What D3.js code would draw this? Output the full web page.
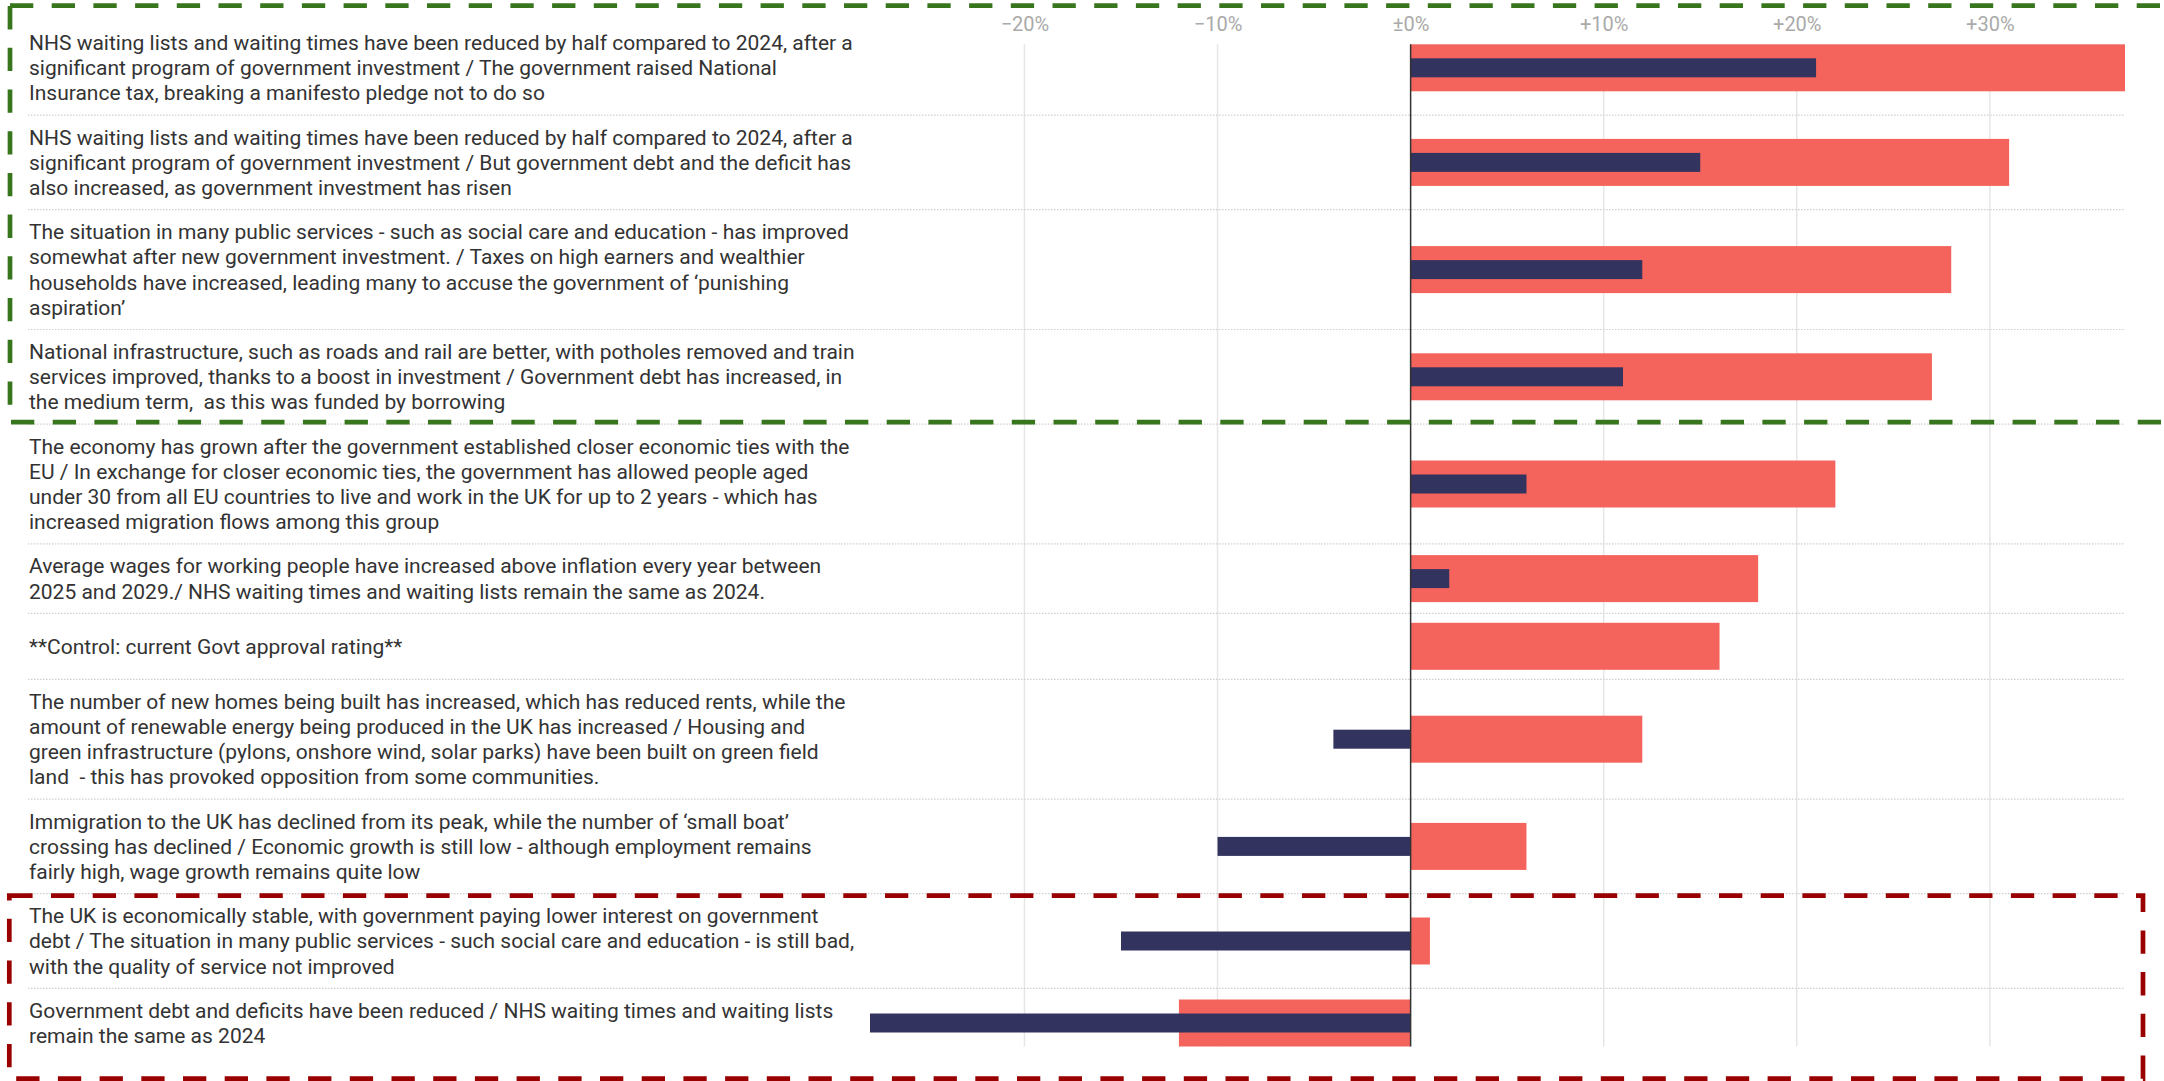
<!DOCTYPE html>
<html>
<head>
<meta charset="utf-8">
<script src="https://cdn.jsdelivr.net/npm/d3@7"></script>
<style>
  body { margin: 0; background: #fff; }
  svg { display: block; font-family: Roboto, "Noto Sans", sans-serif; }
</style>
</head>
<body>
<div id="chart"></div>
<script>
// statements, one per row (line breaks as in the original)
var labels = [
  "NHS waiting lists and waiting times have been reduced by half compared to 2024, after a\nsignificant program of government investment / The government raised National\nInsurance tax, breaking a manifesto pledge not to do so",
  "NHS waiting lists and waiting times have been reduced by half compared to 2024, after a\nsignificant program of government investment / But government debt and the deficit has\nalso increased, as government investment has risen",
  "The situation in many public services - such as social care and education - has improved\nsomewhat after new government investment. / Taxes on high earners and wealthier\nhouseholds have increased, leading many to accuse the government of \u2018punishing\naspiration\u2019",
  "National infrastructure, such as roads and rail are better, with potholes removed and train\nservices improved, thanks to a boost in investment / Government debt has increased, in\nthe medium term,  as this was funded by borrowing",
  "The economy has grown after the government established closer economic ties with the\nEU / In exchange for closer economic ties, the government has allowed people aged\nunder 30 from all EU countries to live and work in the UK for up to 2 years - which has\nincreased migration flows among this group",
  "Average wages for working people have increased above inflation every year between\n2025 and 2029./ NHS waiting times and waiting lists remain the same as 2024.",
  "**Control: current Govt approval rating**",
  "The number of new homes being built has increased, which has reduced rents, while the\namount of renewable energy being produced in the UK has increased / Housing and\ngreen infrastructure (pylons, onshore wind, solar parks) have been built on green field\nland  - this has provoked opposition from some communities.",
  "Immigration to the UK has declined from its peak, while the number of \u2018small boat\u2019\ncrossing has declined / Economic growth is still low - although employment remains\nfairly high, wage growth remains quite low",
  "The UK is economically stable, with government paying lower interest on government\ndebt / The situation in many public services - such social care and education - is still bad,\nwith the quality of service not improved",
  "Government debt and deficits have been reduced / NHS waiting times and waiting lists\nremain the same as 2024"
];

// wide (salmon) bars and narrow (navy) bars, in %
var salmonValues = [37, 31, 28, 27, 22, 18, 16, 12, 6, 1, -12];
var navyValues   = [21, 15, 12, 11, 6, 2, 0, -4, -10, -15, -28];

var tickValues = [-20, -10, 0, 10, 20, 30];
var tickLabels = ["\u221220%", "\u221210%", "\u00b10%", "+10%", "+20%", "+30%"];

// highlighted groups of rows [first, last]
var greenRows = [0, 3];
var redRows = [9, 10];

var width = 2164, height = 1081;
var lineH = 25.2, rowPad = 19, bigH = 47, smallH = 19;
var top0 = 20.5;

var svg = d3.select("#chart").append("svg")
    .attr("width", width)
    .attr("height", height);

// row layout from the number of text lines
var rows = labels.map(function(s) { return s.split("\n"); });
var rowH = rows.map(function(l) { return Math.max(l.length * lineH, bigH) + rowPad; });
var rowTop = [top0].concat(Array.from(d3.cumsum(rowH), function(c) { return top0 + c; }));
var rowMid = rows.map(function(l, i) { return rowTop[i] + rowH[i] / 2; });

var x = d3.scaleLinear()
    .domain([d3.min(navyValues.concat(salmonValues)), d3.max(navyValues.concat(salmonValues))])
    .range([870, 2125]);

var plotTop = rowMid[0] - bigH / 2;
var plotBottom = rowMid[rows.length - 1] + bigH / 2;

// gridlines
svg.append("g").selectAll("line")
    .data(tickValues.filter(function(d) { return d !== 0; }))
  .enter().append("line")
    .attr("x1", function(d) { return x(d); })
    .attr("x2", function(d) { return x(d); })
    .attr("y1", plotTop)
    .attr("y2", plotBottom)
    .style("stroke", "#e6e6e6")
    .style("stroke-width", 1.5);

// dotted row separators
svg.append("g").selectAll("line")
    .data(rowTop.slice(1, rows.length))
  .enter().append("line")
    .attr("x1", 28)
    .attr("x2", x.range()[1])
    .attr("y1", function(d) { return d; })
    .attr("y2", function(d) { return d; })
    .style("stroke", "#cfcfcf")
    .style("stroke-width", 1.2)
    .style("stroke-dasharray", "1.5,1.5");

// x axis on top
var axis = svg.append("g")
    .attr("transform", "translate(0,31)")
    .call(d3.axisTop(x).tickValues(tickValues)
      .tickFormat(function(d, i) { return tickLabels[i]; })
      .tickSize(0).tickPadding(0));
axis.select(".domain").remove();
axis.selectAll("text")
    .style("font-family", "Roboto, sans-serif")
    .style("font-size", "20px")
    .style("fill", "#aaaaaa");

// bars
svg.append("g").selectAll("rect")
    .data(salmonValues)
  .enter().append("rect")
    .attr("x", function(d) { return x(Math.min(0, d)); })
    .attr("width", function(d) { return Math.abs(x(d) - x(0)); })
    .attr("y", function(d, i) { return rowMid[i] - bigH / 2; })
    .attr("height", bigH)
    .style("fill", "#f4645c");

svg.append("g").selectAll("rect")
    .data(navyValues)
  .enter().append("rect")
    .attr("x", function(d) { return x(Math.min(0, d)); })
    .attr("width", function(d) { return Math.abs(x(d) - x(0)); })
    .attr("y", function(d, i) { return rowMid[i] - smallH / 2; })
    .attr("height", smallH)
    .style("fill", "#33335f");

// zero line
svg.append("line")
    .attr("x1", x(0)).attr("x2", x(0))
    .attr("y1", plotTop).attr("y2", plotBottom)
    .style("stroke", "#333")
    .style("stroke-width", 1.5);

// row labels
var txt = svg.append("g").selectAll("text")
    .data(rows)
  .enter().append("text")
    .attr("x", 29)
    .style("font-size", "21px")
    .style("fill", "#333")
    .style("white-space", "pre");

txt.selectAll("tspan")
    .data(function(l, i) {
      return l.map(function(s, j) {
        return {s: s, y: rowMid[i] + (j - (l.length - 1) / 2) * lineH};
      });
    })
  .enter().append("tspan")
    .attr("x", 29)
    .attr("y", function(d) { return d.y; })
    .attr("dy", "0.35em")
    .text(function(d) { return d.s; });

// dashed highlight boxes
function box(r, color, x0, x1, padTop, padBottom) {
  svg.append("rect")
      .attr("x", x0)
      .attr("y", rowTop[r[0]] + padTop)
      .attr("width", x1 - x0)
      .attr("height", rowTop[r[1] + 1] + padBottom - rowTop[r[0]] - padTop)
      .style("fill", "none")
      .style("stroke", color)
      .style("stroke-width", 4.7)
      .style("stroke-dasharray", "23.3,18.4");
}
box(greenRows, "#38761d", 10, 2170, -14.8, -2);
box(redRows, "#990000", 9.3, 2143, 2, 21);
</script>
</body>
</html>
